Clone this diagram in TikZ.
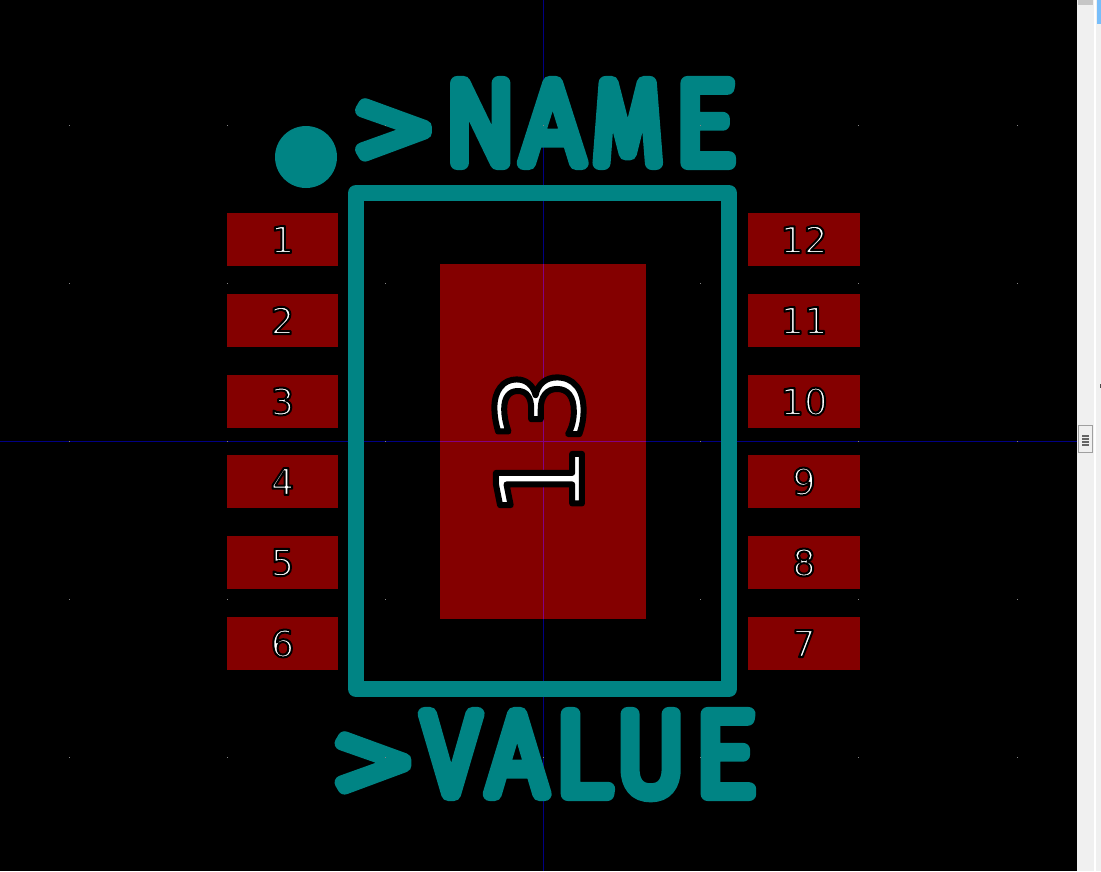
\documentclass[tikz,border=0pt]{standalone}
\usepackage{fontspec}
\setmainfont{DejaVu Sans}
\newfontfamily\bigfont[FakeStretch=0.9]{Fira Sans ExtraLight}
\newfontfamily\wideglyph[FakeStretch=1.35]{Fira Sans ExtraLight}
\newfontfamily\fontA[FakeStretch=0.95]{Fira Sans ExtraLight}
\newfontfamily\fontM[FakeStretch=0.775]{Fira Sans ExtraLight}
\newfontfamily\fontE[FakeStretch=1.03]{Fira Sans ExtraLight}
\definecolor{silk}{RGB}{0,132,132}
\definecolor{padred}{RGB}{132,0,0}
\definecolor{gridblue}{RGB}{0,0,132}
\definecolor{gridmag}{RGB}{132,0,132}
\definecolor{griddot}{RGB}{132,132,132}
\definecolor{barface}{RGB}{240,240,240}
\definecolor{barline}{RGB}{160,160,160}
\definecolor{winblue}{RGB}{120,190,250}
\newcommand{\silktext}{\special{pdf:code 2 Tr 14 w 1 j 1 J 0 .5176 .5176 RG 0 .5176 .5176 rg}}
\newcommand{\padtext}{\special{pdf:code 2 Tr 2 w 1 j 1 J 0 0 0 RG 1 1 1 rg}}
\newcommand{\bigpadtext}{\special{pdf:code 2 Tr 6 w 1 j 1 J 0 0 0 RG 1 1 1 rg}}
\newcommand{\kn}[1]{\kern#1pt\relax}
\newcommand{\gt}[1]{\raisebox{#1pt}{\fontsize{130}{130}\selectfont\wideglyph >}}
\tikzset{
  padbox/.style={fill=padred,draw=none,minimum width=111pt,minimum height=53pt,inner sep=0pt,outer sep=0pt,
    font=\fontsize{37}{37}\selectfont\padtext},
  silklabel/.style={anchor=base west,inner sep=0pt,outer sep=0pt,font=\fontsize{117}{117}\selectfont\bigfont\silktext},
}
\begin{document}
\begin{tikzpicture}[x=1pt,y=-1pt]
\useasboundingbox (0,0) rectangle (1101,871);
\fill[black] (0,0) rectangle (1077,871);
% crosshair
\draw[gridblue,line width=1pt] (543.5,0) -- (543.5,871);
\draw[gridblue,line width=1pt] (0,441.5) -- (1077,441.5);
% silk
\draw[silk,line width=16pt,line join=round] (356,193) rectangle (729,689);
\fill[silk] (306,157) circle (31);
\node[silklabel] (name) at (350,163) {\gt{-10}\kn{8}N\kn{6}{\fontA A}\kn{9}{\fontM M}\kn{11}{\fontE E}};
\node[silklabel] (value) at (329.5,794) {\gt{-12}\kn{6}V\kn{8}A\kn{7}{\fontE L}\kn{6}U\kn{9}{\fontE E}};
% pads
\foreach \n/\yy in {1/239.5,2/320.5,3/401.5,4/481.5,5/562.5,6/643.5}
  \node[padbox] (pad\n) at (282.5,\yy) {\n};
\foreach \n/\yy in {12/239.5,11/320.5,10/401.5,9/481.5,8/562.5,7/643.5}
  \node[padbox,minimum width=112pt] (pad\n) at (804,\yy) {\n};
\fill[padred] (440,264) rectangle (646,619);
\draw[gridmag,line width=1pt] (543.5,264) -- (543.5,619);
\draw[gridmag,line width=1pt] (440,441.5) -- (646,441.5);
\node[inner sep=0pt,outer sep=0pt,rotate=90,font=\fontsize{118}{118}\selectfont\bigpadtext] (pad13) at (539,443) {13};
% grid dots
\foreach \gx in {69,227,385,700,858,1017}
  \foreach \gy in {125,283,441,599,757}
    \fill[griddot] (\gx,\gy) rectangle ++(1,1);
\foreach \gy in {125,757}
  \fill[griddot] (543,\gy) rectangle ++(1,1);
% scrollbar
\fill[barface] (1077,0) rectangle (1101,871);
\fill[white] (1094,0) rectangle (1096,871);
\fill[winblue] (1097,0) rectangle (1101,24);
\fill[barline!60] (1078,0) rectangle (1093,5);
\draw[barline,fill=barface] (1078.5,425.5) rectangle (1092.5,452.5);
\foreach \ly in {435,438,441,444}
  \fill[black!60] (1082,\ly) rectangle (1089,\ly+1.5);
\fill[black!70] (1099.5,384) rectangle (1101,388);
\end{tikzpicture}
\end{document}
